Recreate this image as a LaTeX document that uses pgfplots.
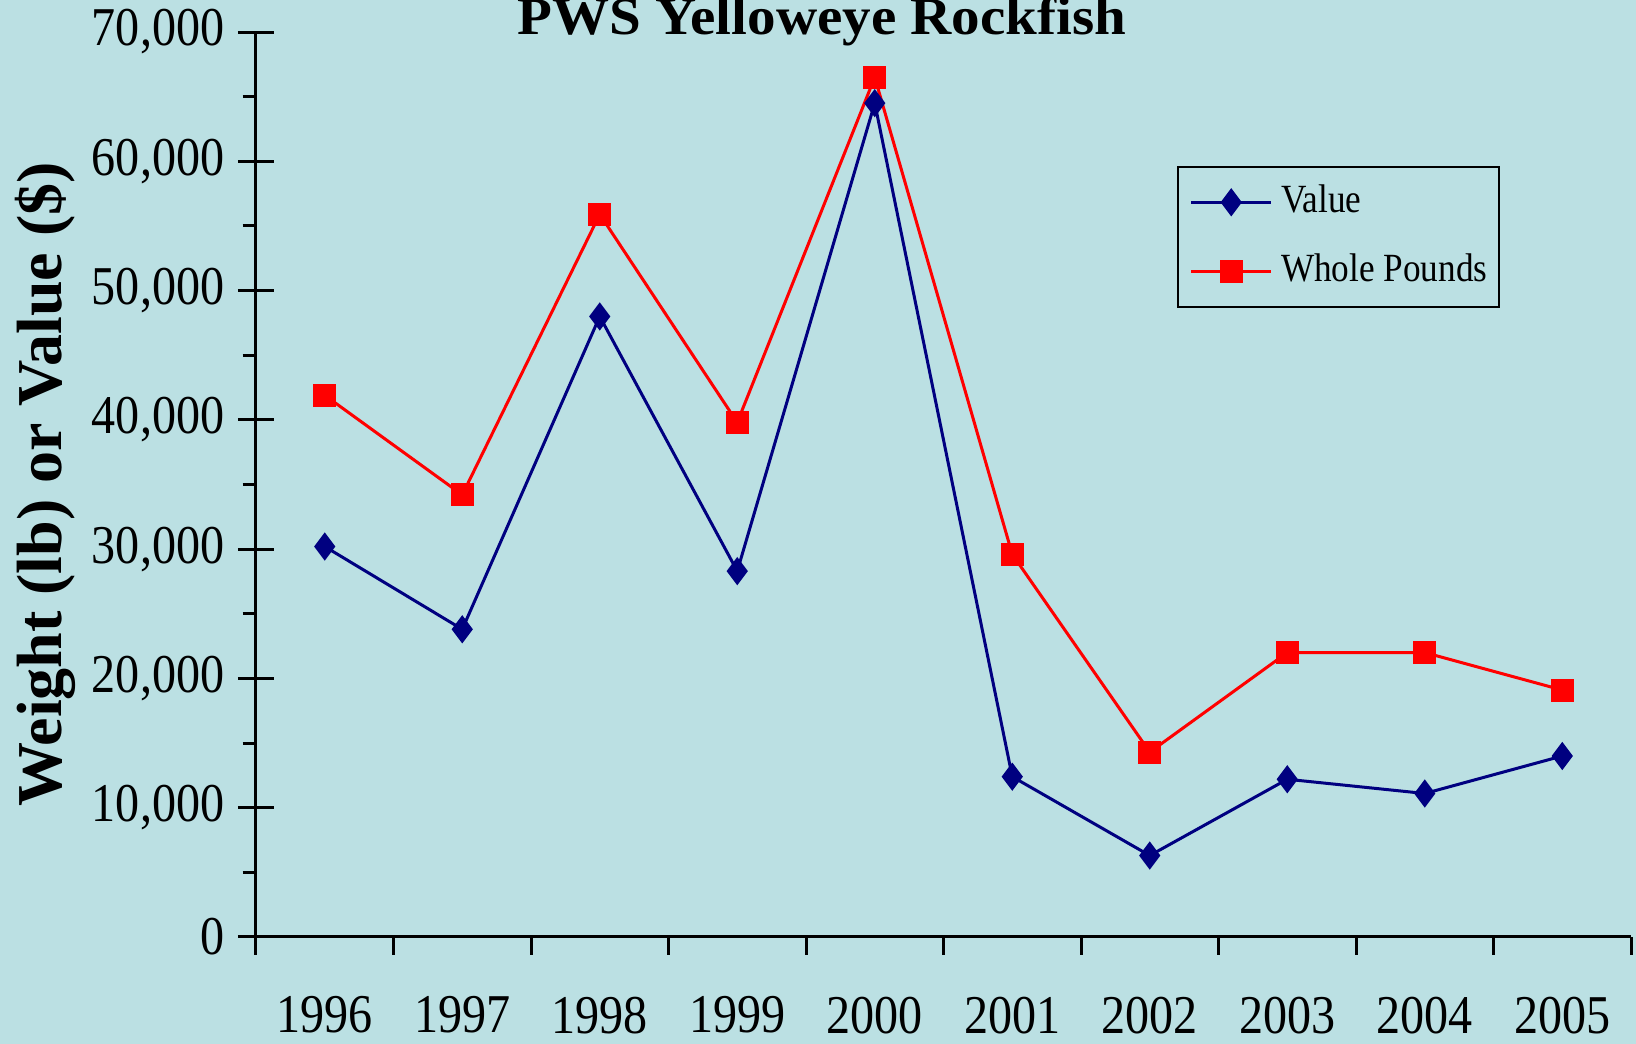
\documentclass[border=0pt]{standalone}
\usepackage{pgfplots}
\usepackage{pgfplotstable}
\pgfplotsset{compat=1.18}
\usepackage{fontspec}
\setmainfont{Liberation Serif}
\newfontfamily\tickfont{Liberation Serif}[FakeStretch=0.88]
\newfontfamily\legfont{Liberation Serif}[FakeStretch=0.88]
\newfontfamily\titlefont{Liberation Serif}[FakeStretch=1.07]
\definecolor{bgc}{RGB}{187,224,227}
\definecolor{navyc}{RGB}{0,0,128}

\pgfplotstableread{
x value pounds
0 30200 41900
1 23800 34200
2 48000 55900
3 28300 39800
4 64500 66500
5 12400 29600
6 6300 14300
7 12200 22000
8 11100 22000
9 14000 19100
}\datatable

\begin{document}
\begin{tikzpicture}
\fill[bgc] (0pt,0pt) rectangle (490.8pt,313.2pt);
\begin{axis}[
  at={(76.8pt,32.1pt)}, anchor=south west,
  scale only axis, width=412.5pt, height=271.5pt,
  xmin=-0.5, xmax=9.5, ymin=0, ymax=70000,
  axis x line*=bottom, axis y line*=left,
  axis line style={line width=0.9pt, black},
  tick style={line width=0.9pt, black},
  tick align=outside,
  major tick length=5.4pt, minor tick length=4pt,
  xtick={-0.5,0.5,1.5,2.5,3.5,4.5,5.5,6.5,7.5,8.5,9.5},
  xticklabels={},
  extra x ticks={0,1,2,3,4,5,6,7,8,9},
  extra x tick labels={1996,1997,1998,1999,2000,2001,2002,2003,2004,2005},
  extra x tick style={major tick length=0pt},
  xticklabel style={yshift=-14.4pt},
  yticklabel style={xshift=-0.6pt},
  ytick={0,10000,20000,30000,40000,50000,60000,70000},
  minor ytick={5000,15000,25000,35000,45000,55000,65000},
  extra y ticks={0,10000,20000,30000,40000,50000,60000,70000},
  extra y tick labels={},
  extra y tick style={tick align=inside},
  scaled y ticks=false,
  /pgf/number format/assume math mode=true,
  /pgf/number format/1000 sep={,},
  tick label style={font=\tickfont\fontsize{16.4}{19}\selectfont},
  ylabel={Weight (lb) or Value (\$)},
  ylabel style={at={(axis description cs:-0.1411,0.5)}, anchor=base, font=\bfseries\fontsize{19.2}{22}\selectfont},
  clip=false,
  legend cell align=left,
  legend style={at={(0.670,0.852)}, anchor=north west, draw=black, line width=0.5pt, fill=bgc,
    font=\legfont\fontsize{12}{14}\selectfont,
    nodes={inner xsep=0pt, inner ysep=2pt, text height=8.5pt, text depth=2.5pt},
    row sep=5.7pt, column sep=2.5pt, inner xsep=3.5pt, inner ysep=3.15pt},
  legend image code/.code={\draw[mark repeat=2,mark phase=2] plot coordinates {(0pt,0pt) (12pt,0pt) (24pt,0pt)};},
]
\addplot[navyc, line width=0.9pt, mark=diamond*, mark size=3.5pt, mark options={fill=navyc, draw=navyc}] table[x=x, y=value] {\datatable};
\addlegendentry{Value}
\addplot[red, line width=0.9pt, mark=square*, mark size=3pt, mark options={fill=red, draw=red}] table[x=x, y=pounds] {\datatable};
\addlegendentry{Whole Pounds}
\end{axis}
\node[anchor=base, font=\titlefont\bfseries\fontsize{16}{18}\selectfont] at (246.6pt,302.8pt) {PWS Yelloweye Rockfish};
\pgfresetboundingbox
\useasboundingbox (0pt,0pt) rectangle (490.8pt,313.2pt);
\end{tikzpicture}
\end{document}
